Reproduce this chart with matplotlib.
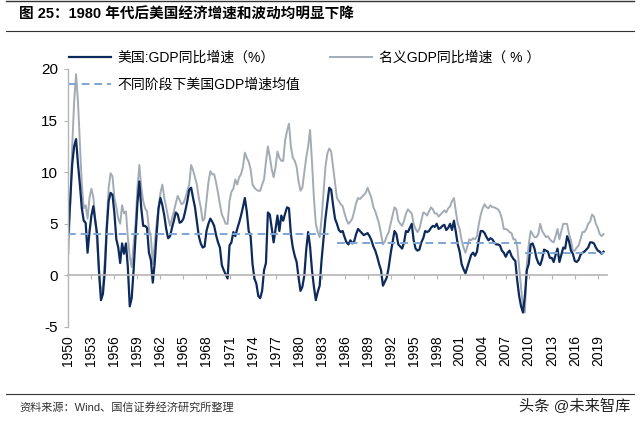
import matplotlib.pyplot as plt
import numpy as np
from matplotlib.lines import Line2D

plt.rcParams['font.family'] = ['Liberation Sans', 'Noto Sans CJK SC', 'DejaVu Sans']

start_year = 1950
# 美国实际 GDP 同比增速 (%)，季度
real_gdp = [
    4.0, 7.5, 10.8, 12.5,   13.2, 10.8, 8.8, 6.5,    5.3, 5.1, 2.2, 4.2,    5.8, 6.7, 5.3, 4.0,
    0.2, -2.4, -1.8, 0.4,   4.5, 7.2, 8.0, 7.8,      6.0, 3.5, 2.7, 1.2,    3.1, 2.1, 3.1, 0.8,
    -3.0, -2.2, 0.5, 3.8,   7.0, 9.1, 6.5, 4.8,      4.8, 4.6, 2.2, 1.5,    -0.7, 1.2, 4.0, 6.5,
    7.5, 6.8, 5.8, 4.5,     3.6, 3.8, 4.6, 5.3,      6.1, 5.9, 5.1, 5.2,    5.5, 6.3, 7.2, 8.3,
    8.5, 7.5, 6.6, 5.2,     3.8, 3.1, 2.7, 2.8,      4.3, 5.0, 5.5, 5.2,    4.8, 3.9, 3.2, 2.7,
    1.0, 0.5, 0.1, -0.3,    2.9, 3.2, 4.2, 3.8,      4.5, 5.1, 5.8, 6.6,    7.5, 6.2, 4.3, 3.8,
    1.1, -0.3, -0.8, -2.0,  -2.2, -1.5, 0.5, 1.2,    6.1, 5.9, 4.6, 3.2,    4.5, 5.8, 4.3, 5.8,
    5.3, 6.0, 6.6, 6.5,     4.0, 2.7, 1.9, 1.3,      -0.2, -1.5, -1.1, 0.0, 2.5, 4.2, 2.8, 0.5,
    -1.1, -2.4, -1.6, -1.0, 1.5, 3.5, 5.5, 7.0,      8.5, 8.3, 6.8, 5.5,    5.0, 4.4, 4.2, 4.3,
    3.7, 3.2, 3.0, 3.4,     3.1, 3.3, 4.0, 4.5,      4.3, 4.1, 3.9, 4.0,    4.1, 3.8, 3.4, 2.8,
    2.4, 1.8, 1.1, 0.5,     -1.0, -0.6, -0.2, 0.8,   2.1, 3.2, 4.3, 4.0,    3.0, 2.8, 2.6, 3.2,
    4.3, 4.2, 4.6, 5.0,     3.4, 2.6, 2.4, 2.5,      3.2, 3.6, 4.3, 4.2,    4.3, 4.6, 4.8, 4.7,
    5.0, 4.5, 4.6, 4.8,     4.9, 4.4, 4.6, 5.0,      4.4, 5.3, 4.2, 3.0,    2.3, 1.1, 0.6, 0.2,
    0.8, 1.4, 2.0, 2.2,     1.9, 2.3, 3.5, 4.3,      4.3, 4.1, 3.7, 3.4,    3.6, 3.5, 3.2, 3.0,
    3.0, 2.9, 2.4, 2.2,     1.8, 2.2, 2.4, 1.9,      1.6, 1.4, -0.5, -2.0,  -3.0, -3.6, -2.0, 0.5,
    1.1, 3.0, 3.1, 2.6,     1.7, 1.2, 1.0, 1.6,      2.5, 2.4, 2.3, 1.7,    1.7, 1.3, 2.0, 2.6,
    1.3, 2.0, 2.7, 2.6,     3.8, 3.3, 2.4, 2.1,      1.4, 1.3, 1.5, 2.0,    2.2, 2.3, 2.5, 2.7,
    3.2, 3.2, 3.1, 2.7,     2.4, 2.3, 2.1, 2.3,
]
# 名义 GDP 同比增速 (%)，季度
nominal_gdp = [
    2.1, 7.0, 12.5, 16.8,   19.5, 16.8, 12.7, 8.8,   6.5, 6.8, 5.5, 7.5,    8.4, 7.6, 5.5, 3.0,
    0.5, -1.8, -1.0, 1.5,   5.0, 8.5, 9.9, 9.6,      7.5, 6.6, 5.5, 5.0,    6.8, 6.0, 6.2, 3.7,
    1.8, 0.8, 3.0, 5.0,     8.5, 10.7, 8.5, 7.2,     6.5, 6.2, 4.5, 3.7,    1.1, 3.0, 5.0, 6.6,
    8.0, 8.8, 7.5, 6.6,     5.6, 4.8, 5.5, 6.2,      7.0, 7.7, 7.3, 6.9,    7.0, 7.5, 8.2, 8.8,
    10.7, 10.2, 9.5, 8.8,   7.5, 6.6, 5.3, 5.5,      7.3, 9.0, 10.1, 9.8,   9.8, 9.0, 8.0, 6.9,
    5.9, 5.5, 5.0, 5.0,     7.2, 8.1, 8.4, 9.3,      8.8, 9.5, 9.8, 10.5,   11.9, 11.4, 11.0, 10.3,
    8.8, 8.5, 8.3, 8.2,     8.2, 8.8, 9.3, 11.0,     12.5, 11.5, 10.3, 9.5, 10.5, 12.0, 11.4, 11.1,
    11.1, 13.1, 14.0, 14.7, 12.5, 11.4, 11.1, 10.5,  9.1, 8.2, 8.5, 10.0,   11.4, 12.5, 14.1, 11.0,
    7.5, 5.0, 4.2, 3.7,     5.5, 8.0, 10.5, 11.8,    12.3, 12.0, 10.5, 9.0, 7.5, 7.2, 6.9, 6.7,
    6.0, 5.4, 5.0, 5.2,     5.5, 6.2, 7.0, 7.5,      7.4, 7.6, 7.8, 8.0,    8.5, 8.0, 7.5, 6.6,
    6.2, 5.6, 5.0, 4.0,     3.0, 3.3, 3.8, 4.2,      5.0, 5.8, 6.6, 6.4,    5.3, 5.0, 4.8, 5.3,
    6.0, 6.4, 6.2, 6.0,     5.0, 4.5, 4.2, 4.5,      5.3, 6.1, 6.0, 5.8,    6.2, 6.6, 6.4, 6.0,
    6.0, 5.7, 5.9, 6.1,     6.3, 6.1, 6.5, 6.7,      7.2, 7.5, 6.2, 5.0,    4.5, 3.4, 2.7, 2.2,
    2.8, 3.5, 3.4, 3.6,     3.5, 3.8, 5.0, 5.9,      6.5, 6.9, 6.6, 6.5,    6.8, 6.6, 6.6, 6.5,
    6.4, 6.1, 5.5, 4.5,     4.5, 4.4, 4.2, 4.1,      3.5, 3.5, 2.8, 0.8,    -1.2, -3.0, -3.6, 1.1,
    3.0, 4.3, 4.0, 3.7,     3.7, 4.0, 5.0, 4.3,      4.0, 3.7, 3.8, 3.5,    3.3, 3.2, 3.8, 4.5,
    3.5, 4.3, 5.0, 5.0,     5.0, 4.0, 3.4, 2.4,      2.4, 2.7, 2.9, 3.5,    4.2, 4.2, 4.5, 5.0,
    5.2, 5.9, 5.7, 5.0,     4.6, 4.0, 3.8, 4.0,
]
# 不同阶段均值
period_start = [1950, 1985, 2009.5]
period_end = [1984.2, 2009.0, 2019.75]
period_mean = [4.0, 3.1, 2.2]

tick_years = list(range(1950, 2020, 3))

t = start_year + np.arange(len(real_gdp)) / 4.0

navy = '#0c2a5b'
gray = '#a3abb5'
dash_c = '#7ea6d3'
axis_c = '#b5b5b5'

fig = plt.figure(figsize=(6.4, 4.21), dpi=100)
ax = fig.add_axes([68 / 640, 1 - 327 / 421, 539 / 640, 258 / 421])

ax.plot(t, nominal_gdp, color=gray, lw=1.4)
ax.plot(t, real_gdp, color=navy, lw=1.6)
for s, e, m in zip(period_start, period_end, period_mean):
    ax.plot([s, e], [m, m], color=dash_c, lw=1.4, ls=(0, (4, 2.5)))

for s in ['top', 'right']:
    ax.spines[s].set_visible(False)
ax.spines['left'].set_color(axis_c)
ax.spines['bottom'].set_color(axis_c)
ax.spines['bottom'].set_position(('data', 0))
ax.spines['left'].set_linewidth(1.0)
ax.spines['bottom'].set_linewidth(1.2)

ax.set_xlim(1949.95, 2020.2)
ax.set_ylim(-5, 20)
ax.set_yticks([-5, 0, 5, 10, 15, 20])
ax.set_yticklabels(['-5', '0', '5', '10', '15', '20'])
ax.set_xticks(tick_years)
ax.set_xticklabels([str(y) for y in tick_years], rotation=90, va='top', ha='center')
ax.tick_params(axis='y', colors=axis_c, length=3, labelcolor='black', labelsize=11, pad=4)
ax.tick_params(axis='x', colors=axis_c, length=3, labelcolor='black', labelsize=10, pad=40)

h_real = Line2D([], [], color=navy, lw=1.6)
h_nom = Line2D([], [], color=gray, lw=1.4)
h_dash = Line2D([], [], color=dash_c, lw=1.4, ls=(0, (4, 2.5)))
leg1 = fig.legend([h_real, h_nom], ['美国:GDP同比增速（%）', '名义GDP同比增速（ % ）'],
                  ncol=2, loc='center left', bbox_to_anchor=(0.097, 1 - 58 / 421),
                  frameon=False, fontsize=10, handlelength=3.0, handletextpad=0.5,
                  columnspacing=4.0, borderpad=0)
leg2 = fig.legend([h_dash], ['不同阶段下美国GDP增速均值'],
                  loc='center left', bbox_to_anchor=(0.097, 1 - 85 / 421),
                  frameon=False, fontsize=10, handlelength=3.0, handletextpad=0.5, borderpad=0)

# 标题与注释
fig.add_artist(Line2D([0.01, 0.99], [1 - 1 / 421, 1 - 1 / 421], color='#333333', lw=1.0))
fig.text(0.03, 1 - 15 / 421, '图 25：1980 年代后美国经济增速和波动均明显下降',
         fontsize=10.5, fontweight='bold', va='center', ha='left')
fig.add_artist(Line2D([0.01, 0.99], [1 - 31 / 421, 1 - 31 / 421], color='#333333', lw=0.8))
fig.add_artist(Line2D([0.01, 0.99], [1 - 394 / 421, 1 - 394 / 421], color='#333333', lw=0.8))
fig.text(0.03, 1 - 407 / 421, '资料来源：Wind、国信证券经济研究所整理',
         fontsize=8, va='center', ha='left', color='#333333')
fig.text(0.985, 1 - 406 / 421, '头条 @未来智库', fontsize=11, va='center', ha='right',
         color='#222222')

fig.savefig('out.png', dpi=100)
